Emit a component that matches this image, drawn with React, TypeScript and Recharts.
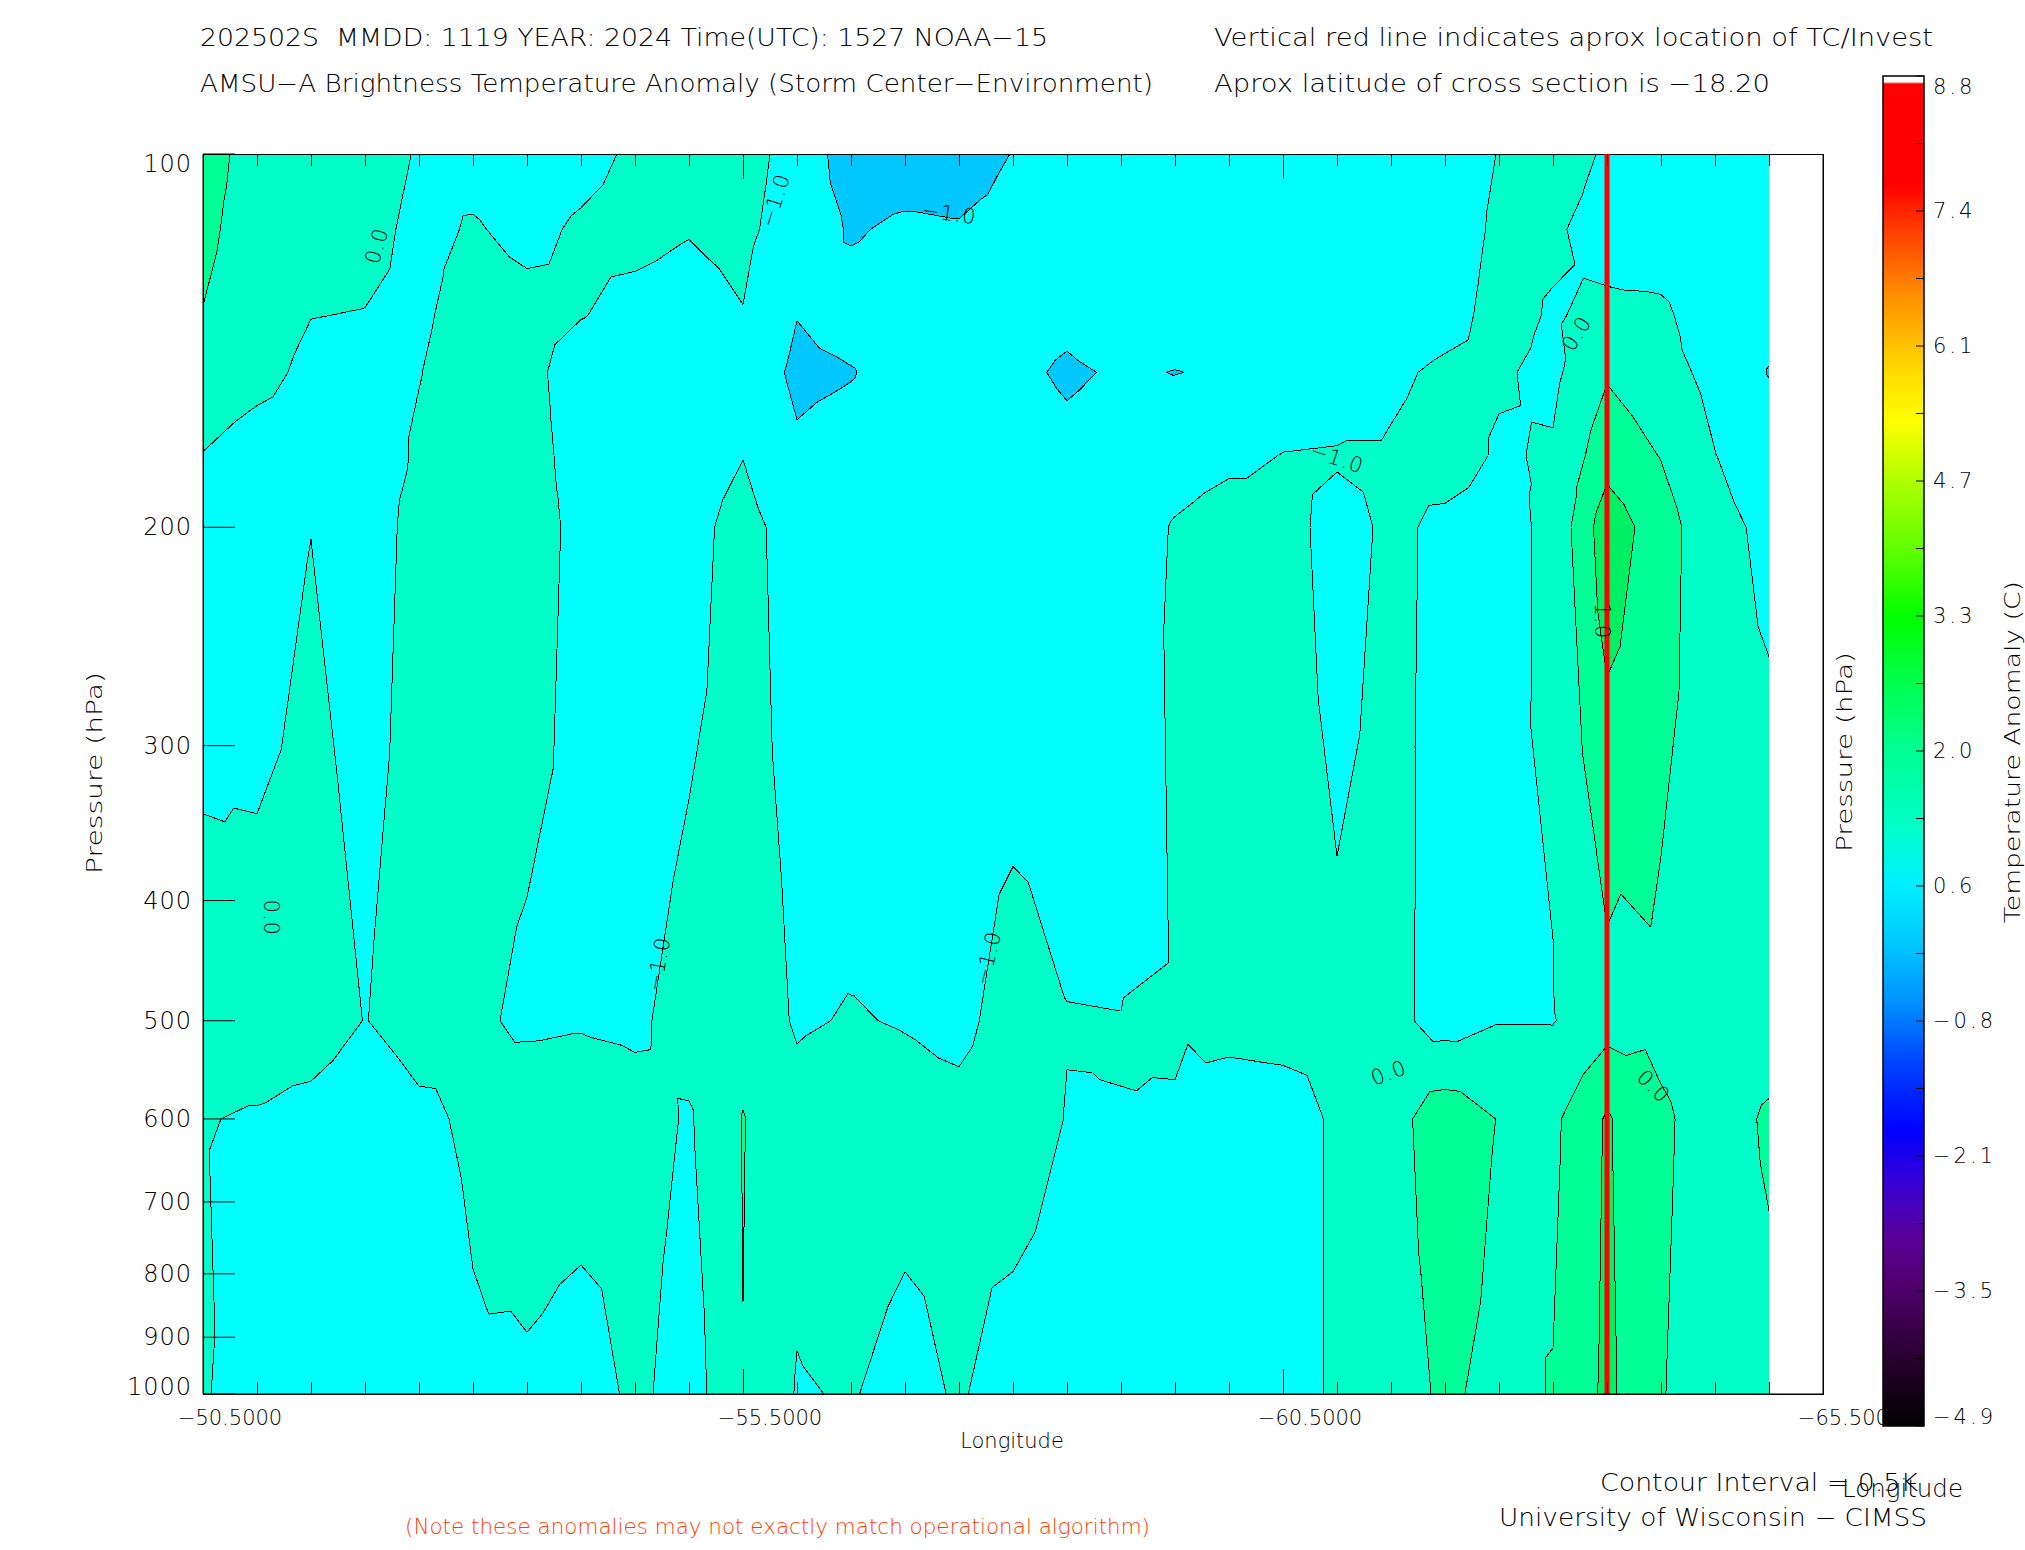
import React from "react";
import { ComposedChart, XAxis, YAxis, ReferenceArea, ReferenceLine, Scatter } from "recharts";

const W = 2025;
const H = 1550;
const PLOT_L = 203;
const PLOT_R = 1823;
const PLOT_T = 154;
const PLOT_B = 1394;
const CB_L = 1883;
const CB_R = 1924;
const CB_T = 76;
const CB_B = 1426;
const FONT = "'DejaVu Sans', 'Liberation Sans', sans-serif";
const WEIGHT = 200;

// cross-section grid: longitude of each AMSU footprint, pressure levels (hPa)
const LONS = [-50.5, -51.0, -51.5, -52.0, -52.5, -53.0, -53.5, -54.0, -54.5, -55.0, -55.5, -56.0, -56.5, -57.0, -57.5, -58.0, -58.5, -59.0, -59.5, -60.0, -60.5, -61.0, -61.5, -62.0, -62.5, -63.0, -63.5, -64.0, -64.5, -65.0];
const LEVELS = [100, 115, 135, 150, 175, 200, 500, 600, 1000];

// temperature anomaly (C) per level, one value per longitude
const T100 = [0.65, 0.35, 0.3, 0.3, -0.05, -0.2, -0.3, -0.2, 0.1, 0.2, 0.35, -0.35, -1.5, -1.5, -1.5, -0.97, -0.6, -0.5, -0.4, -0.4, -0.4, -0.4, -0.3, -0.3, 0.02, 0.4, -0.1, -0.5, -0.5, -0.5];
const T115 = [0.58, 0.33, 0.25, 0.2, -0.15, 0.05, -0.15, 0.08, 0.2, 0.04, 0.2, -0.45, -1.09, -0.84, -0.92, -0.7, -0.6, -0.5, -0.45, -0.4, -0.4, -0.4, -0.3, -0.3, 0.1, 0.1, -0.29, -0.4, -0.5, -0.5];
const T135 = [0.49, 0.3, 0.01, -0.02, -0.1, 0.25, 0.18, 0.03, -0.21, -0.3, -0.03, -0.98, -0.62, -0.6, -0.6, -0.65, -0.8, -0.5, -0.6, -0.5, -0.45, -0.4, -0.35, -0.2, 0.18, -0.05, 0.15, 0.13, -0.4, -0.6];
const T150 = [0.4, 0.2, -0.15, -0.2, -0.02, 0.3, 0.25, -0.41, -0.45, -0.45, -0.35, -1.2, -1.05, -0.6, -0.6, -0.8, -1.12, -0.9, -1.02, -0.9, -0.5, -0.45, -0.1, 0.1, 0.05, -0.1, 0.45, 0.2, -0.15, -1.05];
const T175 = [-0.02, -0.3, -0.3, -0.35, 0.08, 0.3, 0.3, -0.3, -0.5, -0.4, -0.02, -0.85, -0.6, -0.55, -0.5, -0.55, -0.77, -0.6, -0.4, -0.2, 0.02, 0.06, 0.06, 0.2, -0.05, 0.05, 0.8, 0.48, 0.01, -0.3];
const T200 = [-0.36, -0.54, -0.01, -0.4, 0.27, 0.35, 0.3, -0.18, -0.5, -0.27, 0.3, -0.4, -0.55, -0.5, -0.5, -0.55, -0.5, -0.5, 0.07, 0.42, 0.2, -0.2, 0.1, -0.1, -0.15, 0.1, 1.3, 0.72, 0.15, -0.11];
const T500 = [0.26, 0.39, 0.4, -0.02, 0.3, 0.1, -0.1, -0.05, -0.1, 0.22, 0.3, -0.05, 0.03, -0.03, -0.15, 0.25, 0.02, 0.01, 0.03, 0.2, 0.25, 0.1, 0.15, -0.2, -0.02, -0.02, 0.31, 0.39, 0.3, 0.31];
const T600 = [0.03, -0.06, -0.25, -0.5, -0.15, 0.12, 0.38, 0.34, 0.21, -0.05, 0.52, 0.16, 0.3, 0.2, 0.17, 0.3, -0.02, -0.005, -0.02, -0.34, -0.3, 0.1, 0.3, 0.8, 0.48, 0.4, 1.05, 0.56, 0.33, 0.55];
const T1000 = [0.08, -0.45, -0.5, -0.5, -0.5, -0.1, -0.11, -0.3, 0.12, -0.24, 0.49, -0.03, 0.03, -0.16, 0.05, -0.24, -0.3, -0.5, -0.5, -0.5, -0.3, 0.1, 0.3, 0.57, 0.38, 0.52, 1.1, 0.52, 0.3, 0.4];
const GRID = [T100, T115, T135, T150, T175, T200, T500, T600, T1000];

const THRESH = [-1.0, 0.0, 0.5, 1.0];
const FILLS = ["#00c8ff", "#00ffff", "#00ffc8", "#00ff96", "#00f064"];

const TC_LON = -63.5;
const LON_MAJOR = [-50.5, -55.5, -60.5, -65.5];
const LON_TICKS = [-50.5, -51, -51.5, -52, -52.5, -53, -53.5, -54, -54.5, -55, -55.5, -56, -56.5, -57, -57.5, -58, -58.5, -59, -59.5, -60, -60.5, -61, -61.5, -62, -62.5, -63, -63.5, -64, -64.5, -65, -65.5];
const P_TICKS = [100, 200, 300, 400, 500, 600, 700, 800, 900, 1000];
const TICK_MARKS = LON_TICKS.flatMap((lon) => [
  { lon, p: 1000 },
  { lon, p: 100 },
]);

const CONTOUR_LABELS = [
  { lon: -52.11, p: 118.6, text: "0.0", angle: -74 },
  { lon: -55.8, p: 109, text: "−1.0", angle: -72 },
  { lon: -57.41, p: 111.7, text: "−1.0", angle: 8 },
  { lon: -63.22, p: 139.6, text: "0.0", angle: -58 },
  { lon: -61.0, p: 176, text: "−1.0", angle: 18 },
  { lon: -63.45, p: 238, text: "1.0", angle: 90 },
  { lon: -51.13, p: 413, text: "0.0", angle: 90 },
  { lon: -54.72, p: 450, text: "−1.0", angle: -80 },
  { lon: -57.77, p: 445, text: "−1.0", angle: -76 },
  { lon: -61.48, p: 551, text: "0.0", angle: -20 },
  { lon: -63.93, p: 565, text: "0.0", angle: 45 },
];

const CB_MIN = -4.9;
const CB_MAX = 8.8;
const CB_LABELS = ["−4.9", "−3.5", "−2.1", "−0.8", "0.6", "2.0", "3.3", "4.7", "6.1", "7.4", "8.8"];
const CB_STOP_VALUES = [-4.9, -4.4, -3.9, -3.5, -3.0, -2.4, -1.9, -1.2, -0.6, 0.0, 0.6, 1.2, 2.0, 2.7, 3.3, 4.0, 4.7, 5.3, 5.8, 6.1, 6.6, 7.0, 7.4, 7.7, 8.72, 8.74, 8.8];
const CB_STOP_COLORS = ["#000000", "#1e0022", "#3a0048", "#4e006a", "#5a0096", "#3400d8", "#0000ff", "#0046ff", "#0090ff", "#00c8ff", "#00f0ff", "#00ffc8", "#00ff90", "#00ff48", "#00ff00", "#60ff00", "#b0ff00", "#ffff00", "#ffdc00", "#ffbe00", "#ff8c00", "#ff5a00", "#ff2800", "#ff0000", "#ff0000", "#ffffff", "#ffffff"];
const CB_STEP = (CB_MAX - CB_MIN) / 20;
const CB_TICKS = Array.from({ length: 21 }, (_, k) => CB_MIN + k * CB_STEP);
const CB_POINTS = CB_TICKS.map((v) => ({ x: 0.5, v }));

type Pt = [number, number, number];

function clipAbove(poly: Pt[], t: number): Pt[] {
  const out: Pt[] = [];
  for (let k = 0; k < poly.length; k++) {
    const a = poly[k];
    const b = poly[(k + 1) % poly.length];
    const ina = a[2] >= t;
    const inb = b[2] >= t;
    if (ina) out.push(a);
    if (ina !== inb) {
      const f = (t - a[2]) / (b[2] - a[2]);
      out.push([a[0] + f * (b[0] - a[0]), a[1] + f * (b[1] - a[1]), t]);
    }
  }
  return out;
}

function crossings(tri: Pt[], t: number) {
  const pts: number[][] = [];
  for (let k = 0; k < 3; k++) {
    const a = tri[k];
    const b = tri[(k + 1) % 3];
    if (a[2] >= t !== b[2] >= t) {
      const f = (t - a[2]) / (b[2] - a[2]);
      pts.push([a[0] + f * (b[0] - a[0]), a[1] + f * (b[1] - a[1])]);
    }
  }
  return pts;
}

// one grid cell: filled bands + contour segments, cell split into 4 triangles around its centre
function cellShape(i: number, j: number) {
  return (props: any) => {
    const { x, y, width, height } = props;
    const tl = GRID[j][i];
    const tr = GRID[j][i + 1];
    const bl = GRID[j + 1][i];
    const br = GRID[j + 1][i + 1];
    const corners: Pt[] = [
      [x, y, tl],
      [x + width, y, tr],
      [x + width, y + height, br],
      [x, y + height, bl],
    ];
    const mid: Pt = [x + width / 2, y + height / 2, (tl + tr + bl + br) / 4];
    const tris: Pt[][] = [0, 1, 2, 3].map((k) => [corners[k], corners[(k + 1) % 4], mid]);
    const parts: React.ReactNode[] = [
      <rect key="base" x={x} y={y} width={width} height={height} fill={FILLS[0]} />,
    ];
    THRESH.forEach((t, k) => {
      tris.forEach((tri, m) => {
        const poly = clipAbove(tri, t);
        if (poly.length >= 3) {
          parts.push(
            <polygon key={`f${k}-${m}`} points={poly.map((p) => `${p[0]},${p[1]}`).join(" ")} fill={FILLS[k + 1]} />
          );
        }
      });
    });
    THRESH.forEach((t, k) => {
      tris.forEach((tri, m) => {
        const c = crossings(tri, t);
        if (c.length === 2) {
          parts.push(
            <line key={`l${k}-${m}`} x1={c[0][0]} y1={c[0][1]} x2={c[1][0]} y2={c[1][1]} stroke="#000" strokeWidth={1} />
          );
        }
      });
    });
    return <g shapeRendering="crispEdges">{parts}</g>;
  };
}

const CELLS: { i: number; j: number }[] = [];
for (let j = 0; j < LEVELS.length - 1; j++) {
  for (let i = 0; i < LONS.length - 1; i++) CELLS.push({ i, j });
}

const fmtLon = (v: number) => (v < 0 ? "−" : "") + Math.abs(v).toFixed(4);

const XTick = (props: any) => {
  const { x, payload } = props;
  if (!LON_MAJOR.includes(payload.value)) return <g />;
  return (
    <text x={x + 27} y={PLOT_B + 31} textAnchor="middle" fontFamily={FONT} fontWeight={WEIGHT} fontSize={21} fill="#000">
      {fmtLon(payload.value)}
    </text>
  );
};

// inward tick marks on the bottom (p=1000) and top (p=100) edges
const tickMarkShape = (props: any) => {
  const { cx, cy, payload } = props;
  const len = LON_MAJOR.includes(payload.lon) ? 25 : 12;
  const dir = payload.p === 100 ? 1 : -1;
  return <line x1={cx} x2={cx} y1={cy} y2={cy + dir * len} stroke="#000" strokeWidth={1} shapeRendering="crispEdges" />;
};

const frameShape = (props: any) => {
  const { x, y, width, height } = props;
  return <rect x={x} y={y} width={width} height={height} fill="none" stroke="#000" strokeWidth={1} shapeRendering="crispEdges" />;
};

const YTick = (props: any) => {
  const { y, payload } = props;
  const dy = payload.value === 100 ? 10 : payload.value === 1000 ? -7 : 0;
  return (
    <text x={PLOT_L - 11} y={y + dy} textAnchor="end" dominantBaseline="central" fontFamily={FONT} fontWeight={WEIGHT} fontSize={24} letterSpacing={1} fill="#000">
      {payload.value}
    </text>
  );
};

const CbTick = (props: any) => {
  const { y, payload } = props;
  const k = Math.round((payload.value - CB_MIN) / CB_STEP);
  if (k % 2 !== 0) return <g />;
  const dy = k === 0 ? -9 : k === 20 ? 11 : 0;
  return (
    <text x={CB_R + 9} y={y + dy} dominantBaseline="central" fontFamily={FONT} fontWeight={WEIGHT} fontSize={21} letterSpacing={3} fill="#000">
      {CB_LABELS[k / 2]}
    </text>
  );
};

const labelShape = (props: any) => {
  const { cx, cy, payload } = props;
  return (
    <text x={cx} y={cy} transform={`rotate(${payload.angle} ${cx} ${cy})`} textAnchor="middle" dominantBaseline="central" fontFamily={FONT} fontWeight={WEIGHT} fontSize={21} letterSpacing={1} fill="#000">
      {payload.text}
    </text>
  );
};

const black = { stroke: "#000", strokeWidth: 1 };
const LON_DOMAIN = [-65.5, -50.5];

function CrossSection() {
  return (
    <ComposedChart width={W} height={H} margin={{ top: PLOT_T, right: W - PLOT_R, bottom: H - PLOT_B, left: PLOT_L }}>
      {CELLS.map(({ i, j }) => (
        <ReferenceArea
          key={`c${i}-${j}`}
          x1={LONS[i]}
          x2={LONS[i + 1]}
          y1={LEVELS[j]}
          y2={LEVELS[j + 1]}
          ifOverflow="visible"
          shape={cellShape(i, j)}
        />
      ))}
      <ReferenceArea x1={-50.5} x2={-65.5} y1={100} y2={1000} ifOverflow="visible" shape={frameShape} />
      <ReferenceLine x={TC_LON} stroke="#ff0000" strokeWidth={5} ifOverflow="visible" />
      <Scatter data={TICK_MARKS} dataKey="p" isAnimationActive={false} shape={tickMarkShape} />
      <Scatter data={CONTOUR_LABELS} dataKey="p" isAnimationActive={false} shape={labelShape} />
      <XAxis type="number" dataKey="lon" domain={LON_DOMAIN} reversed allowDataOverflow ticks={LON_MAJOR} interval={0} mirror height={1} tickLine={false} tick={<XTick />} axisLine={black} />
      <YAxis type="number" scale="log" domain={[100, 1000]} reversed allowDataOverflow ticks={P_TICKS} interval={0} mirror width={1} tickSize={32} tickMargin={0} tick={<YTick />} axisLine={black} tickLine={black} />
      <YAxis yAxisId="r" orientation="right" type="number" scale="log" domain={[100, 1000]} reversed allowDataOverflow ticks={P_TICKS} interval={0} mirror width={1} tickSize={32} tick={false} axisLine={black} tickLine={black} />
    </ComposedChart>
  );
}

function ColorBar() {
  const n = CB_STOP_VALUES.length;
  return (
    <ComposedChart width={W} height={H} margin={{ top: CB_T, right: W - CB_R, bottom: H - CB_B, left: CB_L }}>
      <defs>
        <linearGradient id="cbar" x1="0" y1="0" x2="0" y2="1">
          {CB_STOP_VALUES.map((_, k) => {
            const idx = n - 1 - k;
            return (
              <stop key={k} offset={(CB_MAX - CB_STOP_VALUES[idx]) / (CB_MAX - CB_MIN)} stopColor={CB_STOP_COLORS[idx]} />
            );
          })}
        </linearGradient>
      </defs>
      <XAxis type="number" dataKey="x" domain={[0, 1]} allowDataOverflow hide />
      <ReferenceArea yAxisId="l" x1={0} x2={1} y1={CB_MIN} y2={CB_MAX} fill="url(#cbar)" fillOpacity={1} stroke="#000" strokeWidth={1.5} ifOverflow="visible" />
      <Scatter yAxisId="l" data={CB_POINTS} dataKey="v" isAnimationActive={false} shape={() => <g />} />
      <YAxis yAxisId="l" type="number" domain={[CB_MIN, CB_MAX]} allowDataOverflow ticks={CB_TICKS} interval={0} mirror width={1} tickSize={5} tick={false} axisLine={false} tickLine={black} />
      <YAxis yAxisId="r" orientation="right" type="number" domain={[CB_MIN, CB_MAX]} allowDataOverflow ticks={CB_TICKS} interval={0} mirror width={1} tickSize={8} tickMargin={0} tick={<CbTick />} axisLine={false} tickLine={black} />
    </ComposedChart>
  );
}

function Texts() {
  const t = { fontFamily: FONT, fontWeight: WEIGHT, fill: "#000" };
  return (
    <svg width={W} height={H} style={{ position: "absolute", left: 0, top: 0, pointerEvents: "none" }}>
      <text x={200} y={46} fontSize={25} textLength={848} lengthAdjust="spacingAndGlyphs" style={{ whiteSpace: "pre" }} {...t}>202502S  MMDD: 1119 YEAR: 2024 Time(UTC): 1527 NOAA−15</text>
      <text x={200} y={92} fontSize={25} textLength={953} lengthAdjust="spacingAndGlyphs" {...t}>AMSU−A Brightness Temperature Anomaly (Storm Center−Environment)</text>
      <text x={1214} y={46} fontSize={25} textLength={719} lengthAdjust="spacingAndGlyphs" {...t}>Vertical red line indicates aprox location of TC/Invest</text>
      <text x={1214} y={92} fontSize={25} textLength={556} lengthAdjust="spacingAndGlyphs" {...t}>Aprox latitude of cross section is −18.20</text>
      <text x={1012} y={1448} fontSize={21} textAnchor="middle" {...t}>Longitude</text>
      <text transform="translate(102 773) rotate(-90)" fontSize={22} textAnchor="middle" textLength={202} lengthAdjust="spacingAndGlyphs" {...t}>Pressure (hPa)</text>
      <text transform="translate(1852 752) rotate(-90)" fontSize={22} textAnchor="middle" textLength={200} lengthAdjust="spacingAndGlyphs" {...t}>Pressure (hPa)</text>
      <text transform="translate(2020 752) rotate(-90)" fontSize={22} textAnchor="middle" textLength={342} lengthAdjust="spacingAndGlyphs" {...t}>Temperature Anomaly (C)</text>
      <text x={1600} y={1491} fontSize={24} textLength={318} lengthAdjust="spacingAndGlyphs" {...t}>Contour Interval = 0.5K</text>
      <text x={1842} y={1497} fontSize={24} textLength={121} lengthAdjust="spacingAndGlyphs" {...t}>Longitude</text>
      <text x={1499} y={1526} fontSize={24} textLength={428} lengthAdjust="spacingAndGlyphs" {...t}>University of Wisconsin − CIMSS</text>
      <text x={405} y={1534} fontSize={21} textLength={745} lengthAdjust="spacingAndGlyphs" fontFamily={FONT} fontWeight={300} fill="#ff3c00">(Note these anomalies may not exactly match operational algorithm)</text>
    </svg>
  );
}

export default function App() {
  return (
    <div style={{ position: "absolute", left: 0, top: 0, width: W, height: H, background: "#fff" }}>
      <div style={{ position: "absolute", left: 0, top: 0 }}>
        <CrossSection />
      </div>
      <div style={{ position: "absolute", left: 0, top: 0 }}>
        <ColorBar />
      </div>
      <Texts />
    </div>
  );
}
